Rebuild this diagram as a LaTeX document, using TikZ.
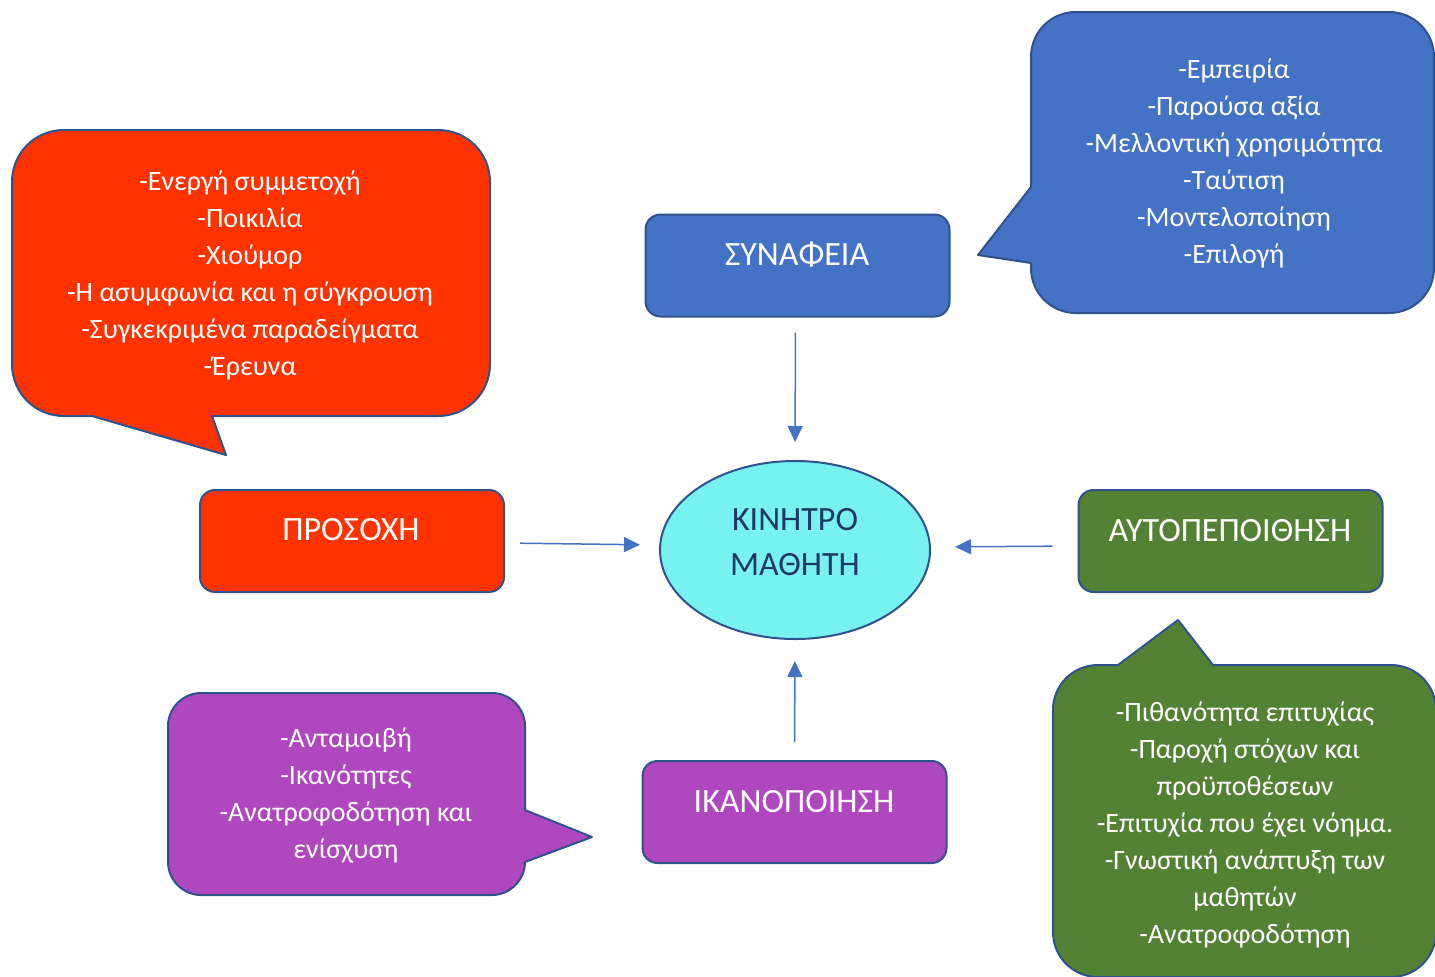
\documentclass[tikz,border=0pt]{standalone}
\usepackage{fontspec}
\setmainfont{Carlito}
\usetikzlibrary{arrows.meta,shapes.geometric}
\definecolor{blueF}{HTML}{4472C4}
\definecolor{edgeC}{HTML}{2F528F}
\definecolor{redF}{HTML}{FF3300}
\definecolor{greenF}{HTML}{548235}
\definecolor{purpleF}{HTML}{AF47BE}
\definecolor{cyanF}{HTML}{78F2F0}
\definecolor{navyT}{HTML}{203864}
\begin{document}
\begin{tikzpicture}[x=0.5pt,y=-0.5pt,
  callout/.style={draw=edgeC, line width=1pt, line join=round},
  topic/.style={draw=edgeC, line width=1pt, rounded corners=7.5pt,
    minimum width=152pt, minimum height=51pt, inner sep=0pt},
  topictext/.style={text=white, anchor=base, font=\fontsize{17}{20}\selectfont},
  listtext/.style={text=white, align=center, font=\fontsize{14}{18.5}\selectfont},
  link/.style={draw=blueF, line width=0.75pt, -{Triangle[length=8pt,width=7.5pt]}},
]
\path[use as bounding box] (0,0) rectangle (1435,976);
\clip (0,0) rectangle (1435,976);

% speech bubbles
\path[callout, fill=blueF]
  (1031,187) -- (1031,57) .. controls (1031,32) and (1051,12) .. (1076,12)
  -- (1389,12) .. controls (1414,12) and (1434,32) .. (1434,57)
  -- (1434,268) .. controls (1434,293) and (1414,313) .. (1389,313)
  -- (1076,313) .. controls (1051,313) and (1031,293) .. (1031,268)
  -- (1031,263) -- (978,255) -- cycle;
\path[callout, fill=redF]
  (64,130) -- (438,130) .. controls (467,130) and (490,153) .. (490,182)
  -- (490,364) .. controls (490,393) and (467,416) .. (438,416)
  -- (212,416) -- (226,455) -- (92,416) -- (64,416)
  .. controls (35,416) and (12,393) .. (12,364)
  -- (12,182) .. controls (12,153) and (35,130) .. (64,130) -- cycle;
\path[callout, fill=greenF]
  (1098,665) -- (1118,665) -- (1178,620) -- (1213,665) -- (1391,665)
  .. controls (1416,665) and (1436,685) .. (1436,710)
  -- (1436,932) .. controls (1436,957) and (1416,977) .. (1391,977)
  -- (1098,977) .. controls (1073,977) and (1053,957) .. (1053,932)
  -- (1053,710) .. controls (1053,685) and (1073,665) .. (1098,665) -- cycle;
\path[callout, fill=purpleF]
  (201,693) -- (492,693) .. controls (510,693) and (525,708) .. (525,726)
  -- (525,810) -- (592,837) -- (525,862)
  .. controls (525,880) and (510,895) .. (492,895)
  -- (201,895) .. controls (183,895) and (168,880) .. (168,862)
  -- (168,726) .. controls (168,708) and (183,693) .. (201,693) -- cycle;

% bubble texts
\node[listtext] (tblue) at (1234,163) {-Εμπειρία\\-Παρούσα αξία\\-Μελλοντική χρησιμότητα\\-Ταύτιση\\-Μοντελοποίηση\\-Επιλογή};
\node[listtext] (tred) at (250,275) {-Ενεργή συμμετοχή\\-Ποικιλία\\-Χιούμορ\\-Η ασυμφωνία και η σύγκρουση\\-Συγκεκριμένα παραδείγματα\\-Έρευνα};
\node[listtext] (tgreen) at (1245,824.5) {-Πιθανότητα επιτυχίας\\-Παροχή στόχων και\\προϋποθέσεων\\-Επιτυχία που έχει νόημα.\\-Γνωστική ανάπτυξη των\\μαθητών\\-Ανατροφοδότηση};
\node[listtext] (tpurple) at (346,795.5) {-Ανταμοιβή\\-Ικανότητες\\-Ανατροφοδότηση και\\ενίσχυση};

% topic boxes
\node[topic, fill=blueF] (syn) at (797.5,265.5) {};
\node[topic, fill=redF] (pros) at (352,541) {};
\node[topic, fill=greenF] (auto) at (1230.5,541) {};
\node[topic, fill=purpleF] (ikan) at (794.5,812) {};
\node[topictext] (lsyn) at (797,265) {ΣΥΝΑΦΕΙΑ};
\node[topictext] (lpros) at (351,540) {ΠΡΟΣΟΧΗ};
\node[topictext] (lauto) at (1230,541) {ΑΥΤΟΠΕΠΟΙΘΗΣΗ};
\node[topictext] (likan) at (794,812) {ΙΚΑΝΟΠΟΙΗΣΗ};

% central ellipse
\node[ellipse, draw=edgeC, line width=1pt, fill=cyanF,
  minimum width=135pt, minimum height=89pt, inner sep=0pt] (ell) at (795,550) {};
\node[text=navyT, align=center, font=\fontsize{17}{22.5}\selectfont] (lell) at (795,542.5) {ΚΙΝΗΤΡΟ\\ΜΑΘΗΤΗ};

% arrows into the centre
\draw[link, shorten <=7.5pt, shorten >=9pt] ([xshift=-1pt]syn.south) -- (ell.north);
\draw[link, shorten <=7.5pt, shorten >=9.5pt] ([yshift=-1pt]pros.east) -- ([yshift=2.5pt]ell.west);
\draw[link, shorten <=12.5pt, shorten >=12pt] ([yshift=-2.5pt]auto.west) -- ([yshift=1.5pt]ell.east);
\draw[link, shorten <=9pt, shorten >=10.5pt] (ikan.north) -- (ell.south);
\end{tikzpicture}
\end{document}
